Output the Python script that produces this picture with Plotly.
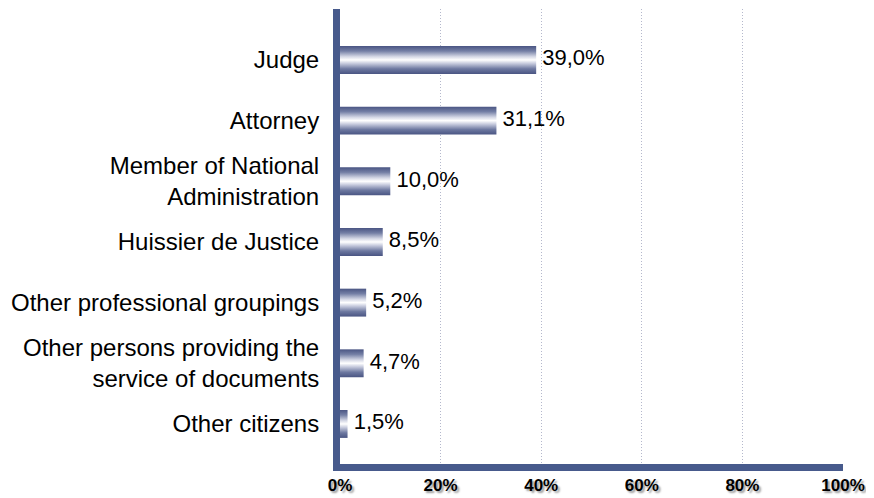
import plotly.graph_objects as go

# data, top to bottom as in the chart
categories = [
    "Judge",
    "Attorney",
    "Member of National<br>Administration",
    "Huissier de Justice",
    "Other professional groupings",
    "Other persons providing the<br>service of documents",
    "Other citizens",
]
shares = [39.0, 31.1, 10.0, 8.5, 5.2, 4.7, 1.5]
x_ticks = [0, 20, 40, 60, 80, 100]

AXIS_BLUE = "#475a8c"
FONT = "Liberation Sans, Arial, sans-serif"
BAR_SCALE = [
    [0.0, "#4a5583"],
    [0.18, "#6d78a0"],
    [0.38, "#c9cddf"],
    [0.5, "#ffffff"],
    [0.62, "#d4d7e5"],
    [0.82, "#747fa5"],
    [1.0, "#4a5583"],
]
half = 0.23

n = len(categories)
positions = [n - 1 - i for i in range(n)]

fig = go.Figure()

# gradient-filled bars, one polygon per category
for pos, val in zip(positions, shares):
    fig.add_trace(go.Scatter(
        x=[0, val, val, 0, 0],
        y=[pos - half, pos - half, pos + half, pos + half, pos - half],
        mode="lines",
        fill="toself",
        fillgradient=dict(type="vertical", colorscale=BAR_SCALE),
        line=dict(width=0),
        hoverinfo="skip",
        showlegend=False,
    ))

# value labels
fig.add_trace(go.Scatter(
    x=shares,
    y=positions,
    mode="text",
    text=["\u00a0" + f"{v:.1f}".replace(".", ",") + "%" for v in shares],
    textposition="middle right",
    textfont=dict(family=FONT, size=22, color="black"),
    cliponaxis=False,
    hoverinfo="skip",
    showlegend=False,
))

fig.update_xaxes(
    range=[0, 100],
    tickvals=x_ticks,
    ticktext=[f"{t}%" for t in x_ticks],
    tickfont=dict(family=FONT, size=17, color="black", weight="bold",
                  shadow="2px 2px 2px #9a9a9a"),
    showline=True, linewidth=7, linecolor=AXIS_BLUE,
    showgrid=True, gridcolor="#b4b8cc", griddash="1px,2px", gridwidth=1,
    zeroline=False, ticks="",
)
fig.update_yaxes(
    range=[-0.66, 6.84],
    tickvals=positions,
    ticktext=categories,
    tickfont=dict(family=FONT, size=24, color="black"),
    ticklabelstandoff=9,
    showline=True, linewidth=7, linecolor=AXIS_BLUE,
    showgrid=False, zeroline=False, ticks="",
)

# page body keeps its default 8px margin, so the figure is 8px smaller
fig.update_layout(
    width=866, height=490,
    margin=dict(l=332, r=31, t=1, b=34),
    plot_bgcolor="white", paper_bgcolor="white",
)

fig.write_html("out.html")
